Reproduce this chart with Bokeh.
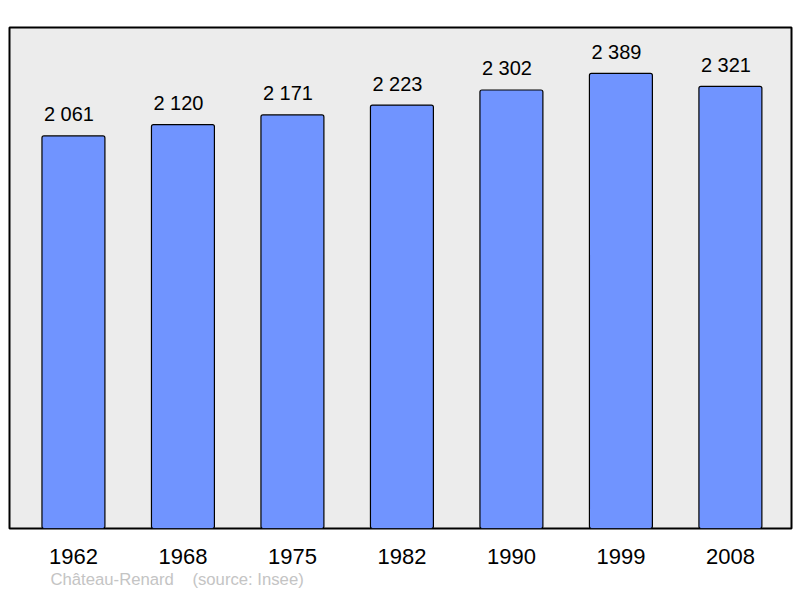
from bokeh.plotting import figure
from bokeh.models import ColumnDataSource, FixedTicker, Title, Range1d
from bokeh.core.properties import value
from bokeh.embed import file_html
from bokeh.resources import INLINE

years = ["1962", "1968", "1975", "1982", "1990", "1999", "2008"]
population = [2061, 2120, 2171, 2223, 2302, 2389, 2321]
value_labels = ["2 061", "2 120", "2 171", "2 223", "2 302", "2 389", "2 321"]
footer = "Château-Renard\u00a0\u00a0\u00a0\u00a0(source: Insee)"

FONT = "Liberation Sans"
idx = list(range(len(years)))
src = ColumnDataSource(dict(x=idx, top=population, lab=value_labels))

p = figure(width=800, height=598, output_backend="svg", toolbar_location=None,
           x_range=Range1d(-0.584, 6.558), y_range=Range1d(0, 2630),
           min_border_left=9, min_border_right=9, min_border_top=27, min_border_bottom=70)
p.background_fill_color = "#ececec"
p.border_fill_color = "white"
p.outline_line_color = "black"
p.outline_line_width = 2
p.grid.visible = False
p.yaxis.visible = False

p.vbar(x="x", top="top", width=0.575, bottom=0, source=src,
       fill_color="#7094ff", line_color="black", line_width=1.2, border_radius=2)
p.text(x="x", y="top", text="lab", source=src, text_align="center", text_baseline="bottom",
       x_offset=-4.5, y_offset=-10.5, text_font=value(FONT), text_font_size="20px",
       text_color="black")

ax = p.xaxis[0]
ax.ticker = FixedTicker(ticks=idx)
ax.major_label_overrides = {i: y for i, y in zip(idx, years)}
ax.axis_line_color = None
ax.major_tick_line_color = None
ax.minor_tick_line_color = None
ax.major_label_text_font = FONT
ax.major_label_text_font_size = "22px"
ax.major_label_text_color = "black"
ax.major_label_standoff = 14

t = Title(text=footer, align="left", offset=41, text_font=FONT, text_font_size="16.7px",
          text_font_style="normal", text_color="#c4c4c4", standoff=2)
p.add_layout(t, "below")

open("out.html", "w").write(file_html(p, INLINE))
